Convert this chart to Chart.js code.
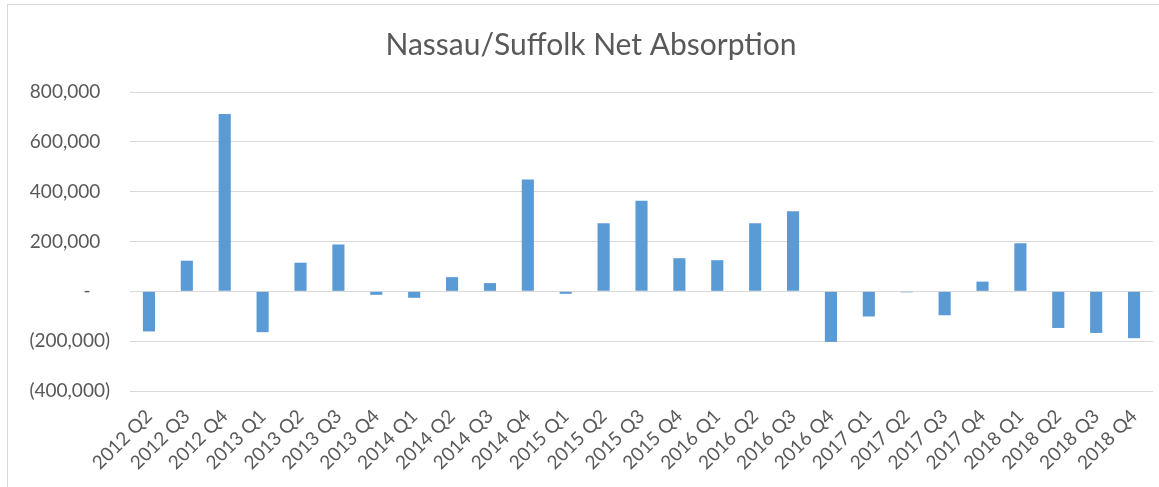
<!DOCTYPE html>
<html>
<head>
<meta charset="utf-8">
<script src="https://cdn.jsdelivr.net/npm/chart.js@4.4.1/dist/chart.umd.min.js"></script>
<style>
  html, body { margin: 0; padding: 0; background: #ffffff; overflow: hidden; }
  #wrap { position: relative; width: 1180px; height: 487px; }
  canvas { display: block; }
</style>
</head>
<body>
<div id="wrap"><canvas id="c"></canvas></div>
<script>
const categories = [
  "2012 Q2","2012 Q3","2012 Q4","2013 Q1","2013 Q2","2013 Q3","2013 Q4",
  "2014 Q1","2014 Q2","2014 Q3","2014 Q4","2015 Q1","2015 Q2","2015 Q3",
  "2015 Q4","2016 Q1","2016 Q2","2016 Q3","2016 Q4","2017 Q1","2017 Q2",
  "2017 Q3","2017 Q4","2018 Q1","2018 Q2","2018 Q3","2018 Q4"
];
const netAbsorption = [
  -161000, 123000, 712000, -164000, 115000, 188000, -14000,
  -26000, 57000, 33000, 449000, -10000, 273000, 364000,
  133000, 125000, 273000, 321000, -203000, -101000, -4000,
  -96000, 39000, 193000, -147000, -167000, -188000
];
const yTicks = [-400000, -200000, 0, 200000, 400000, 600000, 800000];
const chartTitle = "Nassau/Suffolk Net Absorption";

const textColor = "#595959";
const gridColor = "#d9d9d9";
const barColor = "#5b9bd5";
const fontFamily = "Lato, 'Open Sans', sans-serif";

function fmt(v) {
  if (v === 0) return "-    ";
  const s = Math.abs(v).toLocaleString("en-US");
  return v < 0 ? "(" + s + ")" : s + "  ";
}

const borderPlugin = {
  id: "chartBorder",
  beforeDraw(chart) {
    const ctx = chart.ctx;
    ctx.save();
    ctx.strokeStyle = gridColor;
    ctx.lineWidth = 1;
    ctx.strokeRect(7.5, 4.5, 1167, 500);
    ctx.restore();
  }
};

new Chart(document.getElementById("c"), {
  type: "bar",
  data: {
    labels: categories,
    datasets: [{
      label: "Net Absorption",
      data: netAbsorption,
      backgroundColor: barColor,
      borderWidth: 0,
      barPercentage: 0.32,
      categoryPercentage: 1.0
    }]
  },
  options: {
    responsive: true,
    maintainAspectRatio: false,
    animation: false,
    layout: { padding: { left: 7, right: 5, top: 4, bottom: 0 } },
    plugins: {
      legend: { display: false },
      tooltip: { enabled: false },
      title: {
        display: true,
        text: chartTitle,
        color: textColor,
        font: { family: fontFamily, size: 30, weight: "normal" },
        padding: { top: 23, bottom: 29 }
      }
    },
    scales: {
      x: {
        grid: { display: false },
        border: { display: false },
        ticks: {
          color: textColor,
          font: { family: fontFamily, size: 19 },
          maxRotation: 45,
          minRotation: 45,
          autoSkip: false,
          padding: 6
        },
        afterFit(scale) { scale.height = 96; }
      },
      y: {
        min: -400000,
        max: 800000,
        afterBuildTicks(scale) { scale.ticks = yTicks.map(v => ({ value: v })); },
        grid: { color: gridColor, lineWidth: 1, drawTicks: false },
        border: { display: false },
        ticks: {
          color: textColor,
          font: { family: fontFamily, size: 19 },
          padding: 20,
          callback: (v) => fmt(v)
        },
        afterFit(scale) { scale.width = 123; }
      },
      spacer: {
        type: "linear",
        position: "right",
        display: true,
        grid: { display: false },
        border: { display: false },
        ticks: { display: false },
        afterFit(scale) { scale.width = 22; }
      }
    }
  },
  plugins: [borderPlugin]
});
</script>
</body>
</html>
